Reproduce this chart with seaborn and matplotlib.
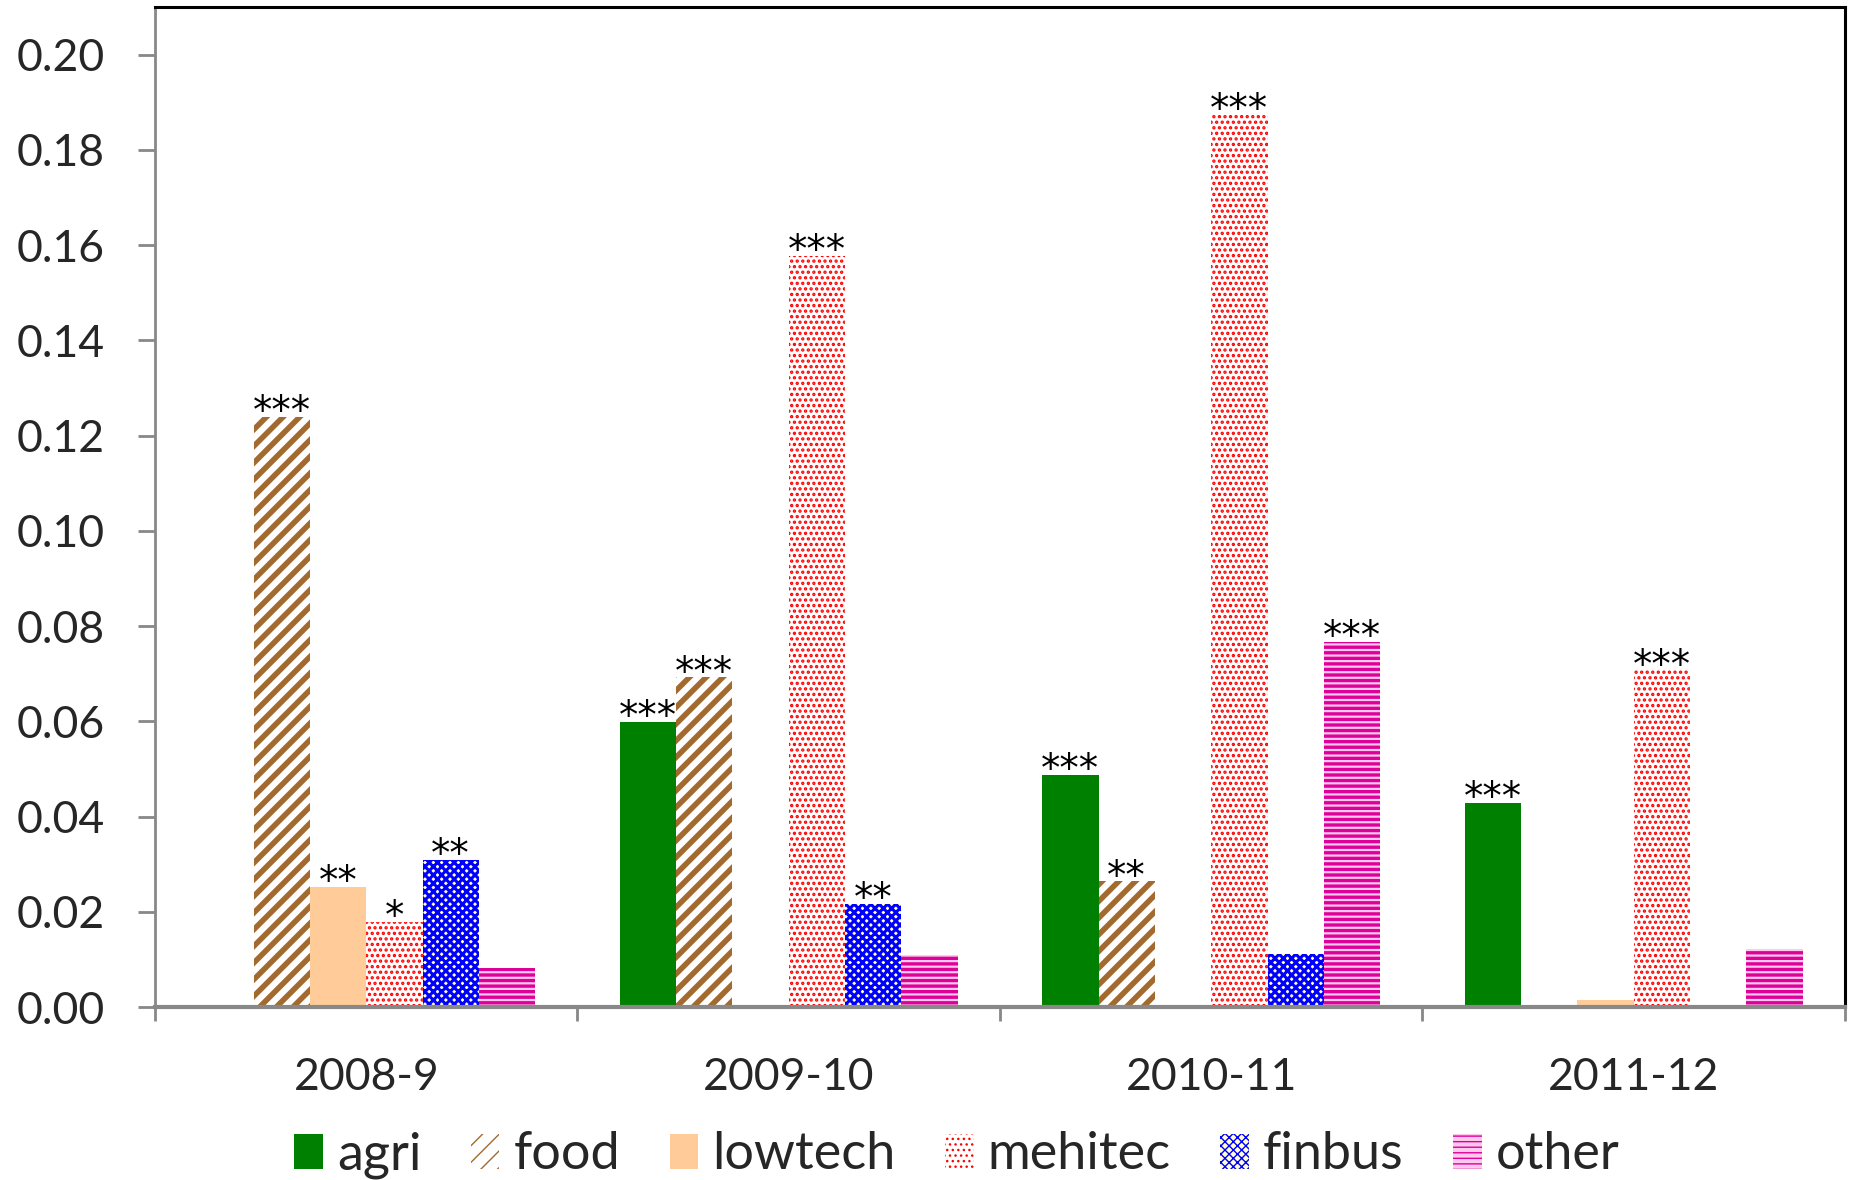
import matplotlib
matplotlib.use("Agg")
import matplotlib.pyplot as plt
import matplotlib.patches as mpatches
from matplotlib.ticker import FixedLocator, FormatStrFormatter
import numpy as np
import pandas as pd
import seaborn as sns

# data
years = ["2008-9", "2009-10", "2010-11", "2011-12"]
sectors = ["agri", "food", "lowtech", "mehitec", "finbus", "other"]
agri = [0.0, 0.0598, 0.0488, 0.0428]
food = [0.1240, 0.0692, 0.0264, 0.0]
lowtech = [0.0252, 0.0, 0.0003, 0.0015]
mehitec = [0.0179, 0.1577, 0.1873, 0.0707]
finbus = [0.0309, 0.0217, 0.0112, 0.0]
other = [0.0082, 0.0110, 0.0767, 0.0122]
stars = {
    "agri": ["", "***", "***", "***"],
    "food": ["***", "***", "**", ""],
    "lowtech": ["**", "", "", ""],
    "mehitec": ["*", "***", "***", "***"],
    "finbus": ["**", "**", "", ""],
    "other": ["", "", "***", ""],
}

values = {"agri": agri, "food": food, "lowtech": lowtech,
          "mehitec": mehitec, "finbus": finbus, "other": other}
rows = []
for s in sectors:
    for y, v in zip(years, values[s]):
        rows.append({"year": y, "sector": s, "value": v})
df = pd.DataFrame(rows)

# face colour, hatch colour, hatch, hatch linewidth
styles = {
    "agri": ("#008000", "#008000", "", 1.0),
    "food": ("#ffffff", "#a36a30", "//", 4.0),
    "lowtech": ("#ffcc99", "#ffcc99", "", 1.0),
    "mehitec": ("#ffffff", "#ff0000", "...", 1.6),
    "finbus": ("#ffffd0", "#0000ff", "xxxx", 2.2),
    "other": ("#ffc8ee", "#dd0099", "---", 2.4),
}

sns.set_style("white")
plt.rcParams["font.family"] = ["Lato", "DejaVu Sans"]

fig = plt.figure(figsize=(18.58, 11.80), dpi=100)
ax = fig.add_axes([0.0834, 0.1466, 0.9096, 0.8475])

sns.barplot(data=df, x="year", y="value", hue="sector", order=years,
            hue_order=sectors, width=0.8, ax=ax, legend=False,
            errorbar=None, saturation=1)

for i, s in enumerate(sectors):
    fc, hc, h, hlw = styles[s]
    for j in range(len(years)):
        p = ax.patches[i * len(years) + j]
        p.set_facecolor(fc)
        p.set_edgecolor(hc)
        p.set_linewidth(0)
        p.set_hatch(h)
        if hasattr(p, "set_hatch_linewidth"):
            p.set_hatch_linewidth(hlw)
        lab = stars[s][j]
        if lab:
            x = p.get_x() + p.get_width() / 2
            ax.annotate(lab, (x, p.get_height()), xytext=(0, -4.5),
                        textcoords="offset points", ha="center", va="baseline",
                        fontsize=28, family="DejaVu Sans", color="black")

ax.set_ylim(0, 0.21)
ax.set_xlim(-0.5, 3.5)
ax.yaxis.set_major_locator(FixedLocator(np.arange(0, 0.201, 0.02)))
ax.yaxis.set_major_formatter(FormatStrFormatter("%.2f"))
ax.tick_params(axis="y", direction="out", length=12, width=2, color="#888888",
               labelsize=32, pad=24, left=True)
ax.xaxis.set_minor_locator(FixedLocator([-0.5, 0.5, 1.5, 2.5, 3.5]))
ax.tick_params(axis="x", which="major", length=0, labelsize=32, pad=36)
ax.tick_params(axis="x", which="minor", direction="out", length=10, width=2,
               color="#888888", bottom=True)
ax.set_xlabel("")
ax.set_ylabel("")

for side in ["left", "bottom"]:
    ax.spines[side].set_color("#888888")
ax.spines["left"].set_linewidth(2)
ax.spines["bottom"].set_linewidth(3)
for side in ["top", "right"]:
    ax.spines[side].set_color("black")
    ax.spines[side].set_linewidth(2.2)

handles = []
for s in sectors:
    fc, hc, h, hlw = styles[s]
    handles.append(mpatches.Patch(facecolor=fc, edgecolor=hc, hatch=h,
                                  linewidth=0, label=s))
fig.legend(handles=handles, loc="center", bbox_to_anchor=(0.515, 0.021),
           ncol=6, frameon=False, fontsize=37.5, handlelength=0.55,
           handleheight=0.65, handletextpad=0.27, columnspacing=0.95)

fig.savefig("out.png", dpi=100)
